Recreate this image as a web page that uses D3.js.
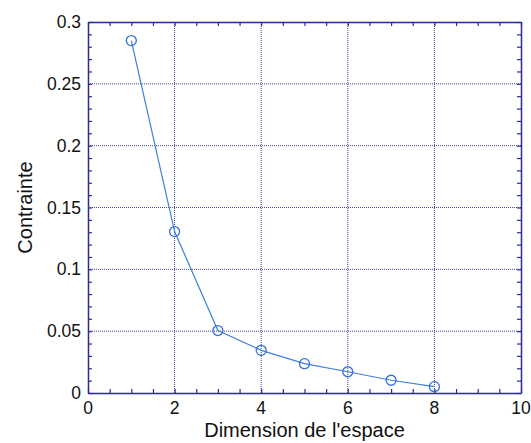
<!DOCTYPE html>
<html lang="fr">
<head>
<meta charset="UTF-8">
<title>Contrainte</title>
<script src="https://cdnjs.cloudflare.com/ajax/libs/d3/7.8.5/d3.min.js"></script>
<style>
  body { margin: 0; background: #fff; }
  text { font-family: "Liberation Sans", Arial, sans-serif; fill: #111; }
</style>
</head>
<body>
<svg id="chart"></svg>
<script>
var dims = [1, 2, 3, 4, 5, 6, 7, 8]
var stress = [0.285, 0.1305, 0.0505, 0.0345, 0.0237, 0.0172, 0.0103, 0.0051]
var xTicks = [0, 2, 4, 6, 8, 10]
var yTicks = [0, 0.05, 0.1, 0.15, 0.2, 0.25, 0.3]

var W = 531, H = 443
var m = {left: 88, top: 22, right: 10, bottom: 50}

var svg = d3.select("#chart").attr("width", W).attr("height", H)

var x = d3.scaleLinear().domain([0, 10]).range([m.left, W - m.right])
var y = d3.scaleLinear().domain([0, 0.3]).range([H - m.bottom, m.top])

var axisCol = "#2a2a9c"

// dotted grid
var grid = svg.append("g")
grid.selectAll(".gx").data(xTicks.slice(1, -1)).enter().append("line")
  .attr("x1", function(d) { return x(d) }).attr("x2", function(d) { return x(d) })
  .attr("y1", y(0)).attr("y2", y(0.3))
  .attr("stroke", "#44449a").attr("stroke-width", 1).attr("stroke-dasharray", "1,1")
grid.selectAll(".gy").data(yTicks.slice(1, -1)).enter().append("line")
  .attr("y1", function(d) { return y(d) }).attr("y2", function(d) { return y(d) })
  .attr("x1", x(0)).attr("x2", x(10))
  .attr("stroke", "#44449a").attr("stroke-width", 1).attr("stroke-dasharray", "1,1")

// axes with inward ticks on all four sides
var minorX = d3.range(0, 10.01, 0.5)
var minorY = d3.range(0, 0.3001, 0.01)

function styleAxis(g) {
  g.select(".domain").attr("stroke", axisCol).attr("stroke-width", 1.5)
  g.selectAll(".tick line").attr("stroke", axisCol).attr("stroke-width", 1.2)
  g.selectAll("text").remove()
}

svg.append("g").attr("transform", "translate(0," + y(0) + ")")
  .call(d3.axisBottom(x).tickValues(minorX).tickSize(-4).tickSizeOuter(0)).call(styleAxis)
svg.append("g").attr("transform", "translate(0," + y(0.3) + ")")
  .call(d3.axisTop(x).tickValues(minorX).tickSize(-4).tickSizeOuter(0)).call(styleAxis)
svg.append("g").attr("transform", "translate(" + x(0) + ",0)")
  .call(d3.axisLeft(y).tickValues(minorY).tickSize(-4).tickSizeOuter(0)).call(styleAxis)
svg.append("g").attr("transform", "translate(" + x(10) + ",0)")
  .call(d3.axisRight(y).tickValues(minorY).tickSize(-4).tickSizeOuter(0)).call(styleAxis)

// tick labels
svg.selectAll(".xl").data(xTicks).enter().append("text")
  .attr("x", function(d) { return x(d) }).attr("y", y(0) + 21)
  .attr("text-anchor", "middle").attr("font-size", 17.5)
  .text(function(d) { return d })
svg.selectAll(".yl").data(yTicks).enter().append("text")
  .attr("x", x(0) - 7).attr("y", function(d) { return y(d) + 6 })
  .attr("text-anchor", "end").attr("font-size", 17.5)
  .text(function(d) { return d === 0 ? "0" : d3.format("")(+d.toFixed(2)) })

// axis titles
svg.append("text").attr("x", x(5)).attr("y", H - 6)
  .attr("text-anchor", "middle").attr("font-size", 20)
  .text("Dimension de l'espace")
svg.append("text").attr("transform", "translate(32," + y(0.15) + ") rotate(-90)")
  .attr("text-anchor", "middle").attr("font-size", 20)
  .text("Contrainte")

// line + markers
var pts = dims.map(function(d, i) { return [d, stress[i]] })
svg.append("path").datum(pts)
  .attr("fill", "none").attr("stroke", "#3f7fdf").attr("stroke-width", 1.2)
  .attr("d", d3.line().x(function(d) { return x(d[0]) }).y(function(d) { return y(d[1]) }))
svg.selectAll(".pt").data(pts).enter().append("circle")
  .attr("cx", function(d) { return x(d[0]) }).attr("cy", function(d) { return y(d[1]) })
  .attr("r", 5).attr("fill", "none").attr("stroke", "#3570d8").attr("stroke-width", 1.3)
</script>
</body>
</html>
